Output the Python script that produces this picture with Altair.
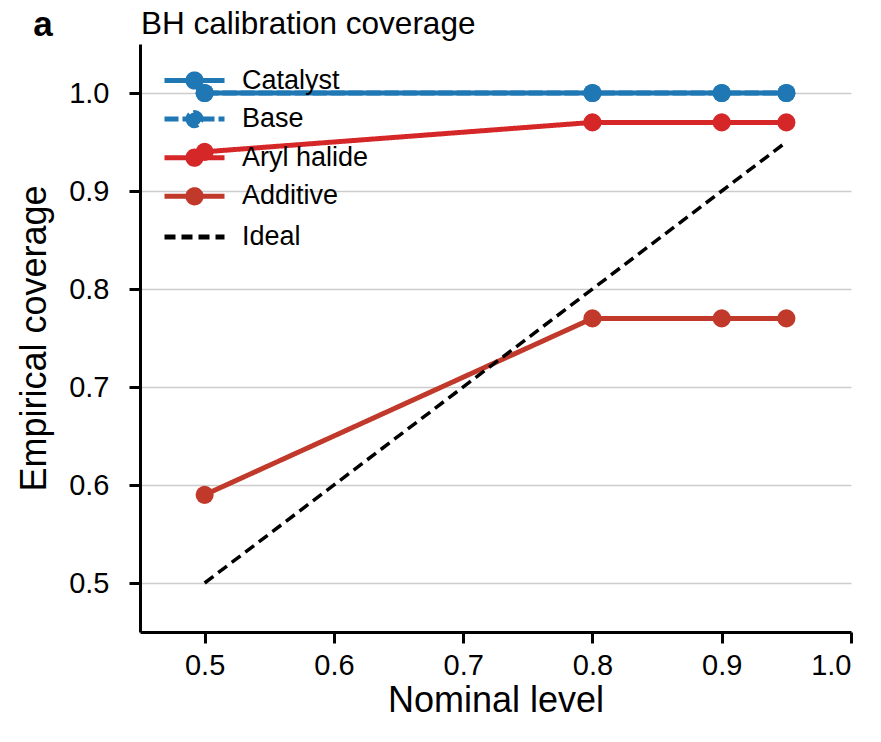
import altair as alt
import pandas as pd

# ---- data ----
levels = [0.5, 0.8, 0.9, 0.95]
series_names = ["Catalyst", "Base", "Aryl halide", "Additive"]
catalyst = [1.0, 1.0, 1.0, 1.0]
base = [1.0, 1.0, 1.0, 1.0]
aryl_halide = [0.94, 0.97, 0.97, 0.97]
additive = [0.59, 0.77, 0.77, 0.77]
ideal_x = [0.5, 0.95]
ideal_y = [0.5, 0.95]

legend_order = ["Catalyst", "Base", "Aryl halide", "Additive", "Ideal"]
colors = ["#1f77b4", "#1f77b4", "#d62728", "#c0392b", "#000000"]
dashes = [[1, 0], [14, 4], [1, 0], [1, 0], [11, 6]]
panel_label = "a"
title_text = "BH calibration coverage"

FONT = "Liberation Sans"

rows = []
for name, vals in zip(series_names, [catalyst, base, aryl_halide, additive]):
    for x, y in zip(levels, vals):
        rows.append({"series": name, "level": x, "coverage": y})
for x, y in zip(ideal_x, ideal_y):
    rows.append({"series": "Ideal", "level": x, "coverage": y})
df = pd.DataFrame(rows)

# legend glyphs: unit = 10 px (symbol size 400 -> sqrt 20 -> half 10)
r = 0.66
glyph_marker = (f"M-3,0L3,0M-{r},0A{r},{r},0,1,0,{r},0A{r},{r},0,1,0,-{r},0Z")
glyph_line = f"M-3,0L3,0M0,-{r + 0.25}M0,{r + 0.25}"
shapes = [glyph_marker] * 4 + [glyph_line]

xscale = alt.Scale(domain=[0.45, 1.0], nice=False, zero=False)
yscale = alt.Scale(domain=[0.45, 1.05], nice=False, zero=False)
cscale = alt.Scale(domain=legend_order, range=colors)
dscale = alt.Scale(domain=legend_order, range=dashes)
sscale = alt.Scale(domain=legend_order, range=shapes)

X = alt.X("level:Q", scale=xscale,
          axis=alt.Axis(values=[0.5, 0.6, 0.7, 0.8, 0.9, 1.0], format=".1f",
                        title="Nominal level", grid=False))
Y = alt.Y("coverage:Q", scale=yscale,
          axis=alt.Axis(values=[0.5, 0.6, 0.7, 0.8, 0.9, 1.0], format=".1f",
                        title="Empirical coverage", grid=True))

legend = alt.Legend(
    title=None, orient="none", legendX=41, legendY=23, padding=0,
    labelFontSize=27, labelFont=FONT, labelColor="black", labelOffset=34,
    rowPadding=3.6, symbolSize=400, symbolStrokeWidth=5, symbolOpacity=1,
    labelLimit=400,
)

base_chart = alt.Chart(df)

lines = base_chart.transform_filter("datum.series != 'Ideal'").mark_line(
    strokeWidth=5, opacity=1
).encode(
    x=X, y=Y,
    color=alt.Color("series:N", scale=cscale, legend=legend),
    strokeDash=alt.StrokeDash("series:N", scale=dscale, legend=legend),
)

ideal = base_chart.transform_filter("datum.series == 'Ideal'").mark_line(
    strokeWidth=3.5, opacity=1
).encode(
    x=X, y=Y,
    color=alt.Color("series:N", scale=cscale, legend=legend),
    strokeDash=alt.StrokeDash("series:N", scale=dscale, legend=legend),
)

points = base_chart.transform_filter("datum.series != 'Ideal'").mark_point(
    filled=True, size=330, opacity=1, shape="circle"
).encode(
    x=X, y=Y,
    color=alt.Color("series:N", scale=cscale, legend=legend),
)

ghost = base_chart.transform_filter("datum.coverage > 100").mark_point(
    filled=True, opacity=1
).encode(
    x=X, y=Y,
    color=alt.Color("series:N", scale=cscale, legend=legend),
    shape=alt.Shape("series:N", scale=sscale, legend=legend),
)

texts = pd.DataFrame({"label": [panel_label, title_text],
                      "kind": ["panel", "title"]})
panel = alt.Chart(texts).transform_filter("datum.kind == 'panel'").mark_text(
    font=FONT, fontSize=35, fontWeight="bold", align="center",
    baseline="alphabetic", color="black"
).encode(text="label:N", x=alt.value(-97), y=alt.value(-8))
title = alt.Chart(texts).transform_filter("datum.kind == 'title'").mark_text(
    font=FONT, fontSize=31.5, fontWeight="normal", align="left",
    baseline="alphabetic", color="black"
).encode(text="label:N", x=alt.value(1), y=alt.value(-10))

chart = alt.layer(lines, ideal, points, ghost, panel, title).properties(
    width=711, height=588,
    autosize=alt.AutoSizeParams(type="none"),
    padding={"left": 140, "top": 44, "right": 30, "bottom": 110},
).configure_view(stroke=None).configure_axis(
    domainColor="black", domainWidth=3, tickColor="black", tickWidth=3,
    tickSize=11, labelFontSize=29, labelFont=FONT, labelColor="black",
    titleFont=FONT, titleFontSize=36, titleFontWeight="normal",
    titleColor="black", gridColor="#cccccc", gridWidth=1.3,
).configure_axisX(titlePadding=3, labelPadding=8).configure_axisY(
    titlePadding=15, labelPadding=20)

chart.save("out.html", embed_options={"renderer": "svg", "actions": False})
